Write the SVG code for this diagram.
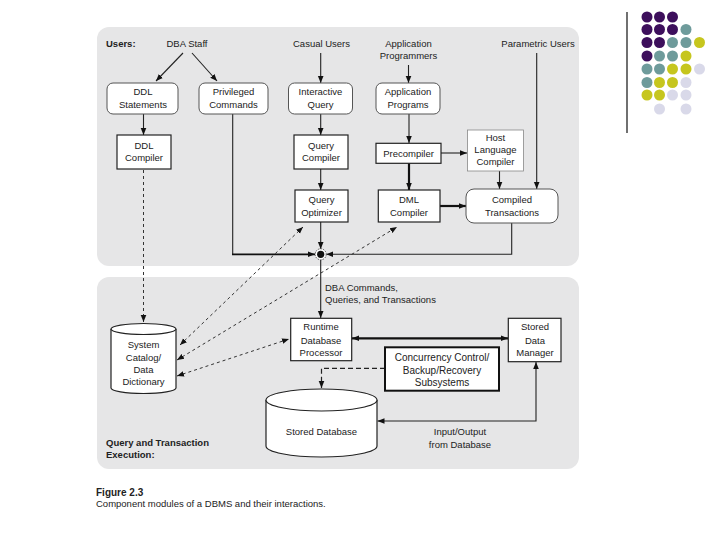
<svg xmlns="http://www.w3.org/2000/svg" width="720" height="540" viewBox="0 0 720 540">
<defs>
<style>
text{font-family:"Liberation Sans",Arial,sans-serif;font-size:9.5px;fill:#222;text-anchor:middle}
.b{font-weight:bold;text-anchor:start}
.l{text-anchor:start}
.panel{fill:#e6e6e7;stroke:none}
.box{fill:#fff;stroke:#222;stroke-width:1.2}
.thick{fill:#fff;stroke:#111;stroke-width:2}
.rbox{fill:#fff;stroke:#555;stroke-width:1}
.ln{fill:none;stroke:#222;stroke-width:1.1}
.md{fill:none;stroke:#111;stroke-width:1.8}
.tk{fill:none;stroke:#111;stroke-width:2.2}
.ds{fill:none;stroke:#333;stroke-width:1;stroke-dasharray:3 3}
.dl{fill:none;stroke:#222;stroke-width:1.2;stroke-dasharray:5 3}
.p{fill:#3d0f5c}.t{fill:#6e9b9b}.y{fill:#c6c61e}.v{fill:#d9d9e9}
</style>
<marker id="a" viewBox="0 0 10 10" refX="10" refY="5" markerWidth="7" markerHeight="7" markerUnits="userSpaceOnUse" orient="auto-start-reverse"><path d="M0,1 L10,5 L0,9 z" fill="#111"/></marker>
</defs>
<rect width="720" height="540" fill="#fff"/>

<g id="decor">
<line x1="627" y1="12" x2="627" y2="133" stroke="#111" stroke-width="1.2"/>
<circle class="p" cx="647" cy="17" r="5.5"/><circle class="p" cx="659.5" cy="17" r="5.5"/><circle class="p" cx="672.5" cy="17" r="5.5"/>
<circle class="p" cx="647" cy="29.5" r="5.5"/><circle class="p" cx="659.5" cy="29.5" r="5.5"/><circle class="p" cx="672.5" cy="29.5" r="5.5"/><circle class="t" cx="686" cy="29.5" r="5.5"/>
<circle class="p" cx="647" cy="42.5" r="5.5"/><circle class="p" cx="659.5" cy="42.5" r="5.5"/><circle class="t" cx="672.5" cy="42.5" r="5.5"/><circle class="t" cx="686" cy="42.5" r="5.5"/><circle class="y" cx="699.5" cy="42.5" r="5.5"/>
<circle class="p" cx="647" cy="56" r="5.5"/><circle class="t" cx="659.5" cy="56" r="5.5"/><circle class="t" cx="672.5" cy="56" r="5.5"/><circle class="y" cx="686" cy="56" r="5.5"/>
<circle class="t" cx="647" cy="69" r="5.5"/><circle class="t" cx="659.5" cy="69" r="5.5"/><circle class="y" cx="672.5" cy="69" r="5.5"/><circle class="y" cx="686" cy="69" r="5.5"/><circle class="v" cx="699.5" cy="69" r="5.5"/>
<circle class="t" cx="647" cy="82.5" r="5.5"/><circle class="y" cx="659.5" cy="82.5" r="5.5"/><circle class="y" cx="672.5" cy="82.5" r="5.5"/><circle class="v" cx="686" cy="82.5" r="5.5"/>
<circle class="y" cx="647" cy="95" r="5.5"/><circle class="y" cx="659.5" cy="95" r="5.5"/><circle class="v" cx="672.5" cy="95" r="5.5"/><circle class="v" cx="686" cy="95" r="5.5"/>
<circle class="v" cx="659.5" cy="109" r="5.5"/><circle class="v" cx="686" cy="109" r="5.5"/>
</g>

<g id="panels">
<rect class="panel" x="97" y="27" width="482" height="239" rx="12"/>
<rect class="panel" x="97" y="277" width="482" height="192" rx="12"/>
<text class="b" x="106" y="46.5">Users:</text>
<text class="b" x="106" y="445.5">Query and Transaction</text>
<text class="b" x="106" y="457.5">Execution:</text>
</g>

<g id="users">
<text x="187" y="46.5">DBA Staff</text>
<text x="321.5" y="46.5">Casual Users</text>
<text x="408.5" y="46.5">Application</text>
<text x="408.5" y="59">Programmers</text>
<text x="538" y="46.5">Parametric Users</text>
</g>

<g id="connectors">
<path class="ln" d="M183 53 L156 81" marker-end="url(#a)"/>
<path class="ln" d="M192 53 L217 81" marker-end="url(#a)"/>
<path class="ln" d="M320.7 53 V83" marker-end="url(#a)"/>
<path class="ln" d="M408.5 65 V83" marker-end="url(#a)"/>
<path class="ln" d="M536.7 53 V189" marker-end="url(#a)"/>
<path class="ln" d="M143.5 114 V135" marker-end="url(#a)"/>
<path class="ln" d="M320.7 114 V135" marker-end="url(#a)"/>
<path class="ln" d="M409 114 V143" marker-end="url(#a)"/>
<path class="ln" d="M320.7 169 V190" marker-end="url(#a)"/>
<path class="tk" d="M409 163 V190" marker-end="url(#a)"/>
<path class="ln" d="M441 153 H467" marker-end="url(#a)"/>
<path class="tk" d="M440 206 H466" marker-end="url(#a)"/>
<path class="ln" d="M499.5 171 V189" marker-end="url(#a)"/>
<path class="ln" d="M320.7 222 V249" marker-end="url(#a)"/>
<path class="ln" d="M232.7 114 V254.3"/>
<path class="md" d="M232 254.3 H315" marker-end="url(#a)"/>
<path class="ln" d="M511.7 223 V254.3 H326.3" marker-end="url(#a)"/>
<path class="ln" d="M320.7 260 V318" marker-end="url(#a)"/>
<path class="ds" d="M143.5 170 V322" marker-end="url(#a)"/>
<path class="ds" d="M180 345 L303 227" marker-start="url(#a)" marker-end="url(#a)"/>
<path class="ds" d="M177 360 L397 227" marker-start="url(#a)" marker-end="url(#a)"/>
<path class="ds" d="M177 376 L289 339" marker-start="url(#a)" marker-end="url(#a)"/>
<path class="tk" d="M352 338.3 H508" marker-start="url(#a)" marker-end="url(#a)"/>
<path class="dl" d="M385 368.3 H321.5 V388" marker-end="url(#a)"/>
<path class="ln" d="M377.5 421 H536 V362" marker-start="url(#a)" marker-end="url(#a)"/>
<text class="l" x="325" y="290.5">DBA Commands,</text>
<text class="l" x="325" y="303">Queries, and Transactions</text>
<text x="460" y="434.5">Input/Output</text>
<text x="460" y="447.5">from Database</text>
</g>

<g id="junction">
<circle cx="320.7" cy="254.3" r="5.5" fill="#fff" stroke="#333" stroke-width="0.8" stroke-dasharray="1.5 1"/>
<circle cx="320.7" cy="254.3" r="3.6" fill="#111"/>
</g>

<g id="ddl-statements"><rect class="rbox" x="107" y="83" width="71" height="31" rx="6"/><text x="143" y="95">DDL</text><text x="143" y="107.5">Statements</text></g>
<g id="privileged-commands"><rect class="rbox" x="199" y="83" width="69" height="31" rx="6"/><text x="233.5" y="95">Privileged</text><text x="233.5" y="107.5">Commands</text></g>
<g id="interactive-query"><rect class="rbox" x="288.5" y="83" width="64" height="31" rx="6"/><text x="320.5" y="95">Interactive</text><text x="320.5" y="107.5">Query</text></g>
<g id="application-programs"><rect class="rbox" x="376" y="83" width="64" height="31" rx="6"/><text x="408" y="95">Application</text><text x="408" y="107.5">Programs</text></g>
<g id="ddl-compiler"><rect class="box" x="117" y="135" width="54" height="34"/><text x="144" y="148.5">DDL</text><text x="144" y="161">Compiler</text></g>
<g id="query-compiler"><rect class="box" x="294" y="135" width="54" height="34" stroke-width="1.6"/><text x="321" y="148.5">Query</text><text x="321" y="161">Compiler</text></g>
<g id="precompiler"><rect class="box" x="376" y="143.3" width="65" height="20"/><text x="408.5" y="156.5">Precompiler</text></g>
<g id="host-language-compiler"><rect x="467.5" y="130" width="56" height="41" fill="#fff" stroke="#888" stroke-width="0.8"/><text x="495.5" y="140.5">Host</text><text x="495.5" y="153">Language</text><text x="495.5" y="165">Compiler</text></g>
<g id="query-optimizer"><rect class="box" x="295" y="190" width="53" height="32" stroke-width="1.6"/><text x="321.5" y="203">Query</text><text x="321.5" y="215.5">Optimizer</text></g>
<g id="dml-compiler"><rect class="box" x="378.3" y="190" width="61.7" height="32"/><text x="409" y="203">DML</text><text x="409" y="215.5">Compiler</text></g>
<g id="compiled-transactions"><rect class="rbox" x="466" y="189" width="92" height="34" rx="8"/><text x="512" y="203">Compiled</text><text x="512" y="215.5">Transactions</text></g>

<g id="system-catalog">
<path d="M111 329 V388 A32.5 5.5 0 0 0 176 388 V329" fill="#fff" stroke="#222" stroke-width="1.2"/>
<ellipse cx="143.5" cy="329" rx="32.5" ry="5.5" fill="#fff" stroke="#222" stroke-width="1.2"/>
<text x="143.5" y="348">System</text><text x="143.5" y="360.5">Catalog/</text><text x="143.5" y="373">Data</text><text x="143.5" y="385">Dictionary</text>
</g>
<g id="runtime-processor"><rect class="box" x="290.7" y="318.3" width="61" height="42.4"/><text x="321" y="330">Runtime</text><text x="321" y="343.5">Database</text><text x="321" y="356">Processor</text></g>
<g id="stored-data-manager"><rect class="box" x="508.3" y="318.3" width="52.7" height="43.4"/><text x="535" y="330">Stored</text><text x="535" y="343.5">Data</text><text x="535" y="356">Manager</text></g>
<g id="concurrency-control"><rect class="thick" x="385" y="347.3" width="114" height="43.4"/><text x="442" y="361" style="font-size:10px">Concurrency Control/</text><text x="442" y="373.5" style="font-size:10px">Backup/Recovery</text><text x="442" y="386" style="font-size:10px">Subsystems</text></g>
<g id="stored-database">
<path d="M266 400 V446 A55.5 11 0 0 0 377 446 V400" fill="#fff" stroke="#222" stroke-width="1.2"/>
<ellipse cx="321.5" cy="400" rx="55.5" ry="11" fill="#fff" stroke="#222" stroke-width="1.2"/>
<text x="321.5" y="435">Stored Database</text>
</g>

<g id="caption">
<text class="b" x="96" y="496" style="font-size:10px">Figure 2.3</text>
<text class="l" x="96" y="507" style="font-size:9.5px">Component modules of a DBMS and their interactions.</text>
</g>
</svg>
